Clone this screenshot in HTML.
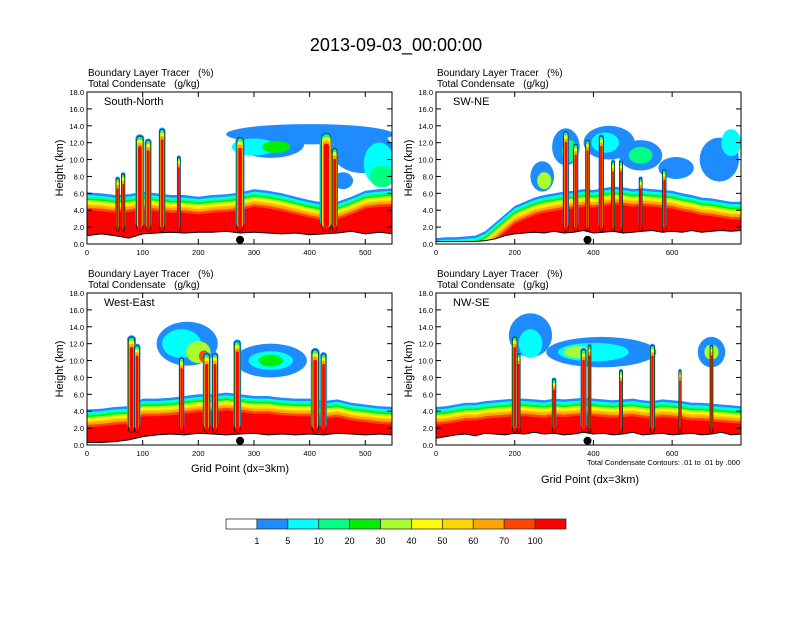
<!DOCTYPE html>
<html><head><meta charset="utf-8"><style>
body{margin:0;background:#fff}
svg text{font-family:"Liberation Sans",sans-serif}
</style></head><body>
<svg id="s" width="792" height="612" xmlns="http://www.w3.org/2000/svg">
<rect width="792" height="612" fill="#fff"/>
<text x="396" y="51" font-size="18" text-anchor="middle">2013-09-03_00:00:00</text>
</svg>
<script>
// ---- data ----
const levelColors=["#ffffff","#1e8cff","#00ffff","#00ff82","#00f000","#a8ff30","#ffff00","#ffd700","#ffa500","#ff4500","#ff0000"];
const colorbarLabels=["1","5","10","20","30","40","50","60","70","100"];
const panelNames=["South-North","SW-NE","West-East","NW-SE"];
const panelGridMax=[548,775,548,775];
const p1Terrain=[1.0,1.2,1.0,0.7,1.2,1.3,1.4,1.3,1.4,1.4,1.5,1.3,1.4,1.3,1.2,1.3,1.1,1.2,1.3,1.5,1.2,1.4,1.2];
const p1BlueTop=[6.1,6.0,5.8,5.9,6.2,6.0,5.8,5.8,5.6,5.8,5.9,6.1,6.5,6.3,6.0,5.6,5.2,4.9,5.0,5.6,6.3,6.5,6.6];
const p1Towers=[[55,8,8],[65,8.5,8],[95,13,16],[110,12.5,12],[135,13.8,12],[165,10.5,7],[275,12.8,16],[430,13.3,24],[445,11.5,12]];
const p1Clouds=[[400,13,150,1.2,1],[330,11.8,60,1.6,1],[300,11.5,40,1.0,2],[340,11.5,25,0.7,4],[495,11,55,2.6,1],[525,9.5,28,2.5,2],[530,8,22,1.3,3],[460,7.5,18,1.0,1]];
const p2Terrain=[0.3,0.3,0.3,0.3,0.3,0.4,0.6,1.0,1.2,1.3,1.4,1.3,1.5,1.3,1.4,1.6,1.3,1.4,1.5,1.3,1.4,1.5,1.6,1.4,1.5,1.4,1.6,1.4,1.5,1.6,1.5,1.6];
const p2BlueTop=[0.7,0.8,0.8,0.9,1.0,1.5,2.5,3.5,4.5,5.0,5.5,5.8,6.0,6.2,6.3,6.5,6.4,6.6,6.8,6.7,6.5,6.6,6.5,6.4,6.3,6.0,5.8,5.5,5.4,5.2,5.0,5.0];
const p2Towers=[[330,13.5,16],[355,12,14],[385,12.5,12],[420,13,14],[450,10,10],[470,10,10],[520,8,10],[580,9,12]];
const p2Clouds=[[270,8,30,1.8,1],[275,7.5,18,1.0,5],[330,11.5,35,2.2,1],[340,11,20,1.3,3],[440,12,65,2.0,1],[430,12,35,1.2,2],[520,10.5,55,1.8,1],[520,10.5,30,1.0,3],[610,9,45,1.3,1],[720,10,50,2.6,1],[750,12,25,1.6,2]];
const p3Terrain=[0.3,0.3,0.4,0.6,1.0,1.2,1.3,1.2,1.4,1.3,1.2,1.3,1.4,1.2,1.3,1.2,1.3,1.2,1.4,1.3,1.2,1.3,1.2];
const p3BlueTop=[4.2,4.3,4.5,4.6,5.5,5.5,5.6,5.8,6.0,6.0,6.2,6.0,5.8,5.8,5.6,5.5,5.5,5.2,5.4,5.0,4.8,4.6,4.5];
const p3Towers=[[80,13,16],[90,12,12],[170,10.5,10],[215,11,14],[230,11,12],[270,12.5,14],[410,11.5,16],[425,11,12]];
const p3Clouds=[[180,12,55,2.6,1],[170,12,35,1.7,2],[200,11,22,1.3,5],[210,10.5,9,0.7,9],[330,10,65,2.0,1],[330,10,40,1.1,2],[330,10,22,0.7,4]];
const p4Terrain=[0.8,1.0,1.2,1.3,1.1,1.4,1.3,1.2,1.4,1.3,1.5,1.3,1.4,1.2,1.3,1.5,1.3,1.4,1.2,1.3,1.5,1.2,1.3,1.4,1.2,1.3,1.4,1.2,1.3,1.5,1.2,1.3];
const p4BlueTop=[4.5,4.6,4.8,5.0,5.0,5.2,5.3,5.4,5.5,5.5,5.4,5.3,5.5,5.4,5.5,5.6,5.5,5.4,5.3,5.4,5.5,5.3,5.2,5.4,5.3,5.2,5.0,5.0,4.9,4.8,4.7,4.6];
const p4Towers=[[200,13,16],[210,11,10],[300,8,12],[375,11.5,16],[390,12,10],[470,9,10],[550,12,14],[620,9,8],[700,12,10]];
const p4Clouds=[[240,13,55,2.6,1],[240,12,30,1.7,2],[420,11,140,1.8,1],[400,11,90,1.1,2],[360,11,35,0.7,5],[700,11,35,1.8,1],[700,11,18,0.9,5]];
const dotGrid=[275,385,275,385];
const yTicks=[0,2,4,6,8,10,12,14,16,18];
const xTicksSmall=[0,100,200,300,400,500];
const xTicksLarge=[0,200,400,600];
const bandOffsets=[0,0.3,0.5,0.7,0.9,1.1,1.3,1.5,1.8,2.1];

// ---- drawing ----
const svg=document.getElementById('s');
const NS="http://www.w3.org/2000/svg";
function mk(tag,attrs,parent){const e=document.createElementNS(NS,tag);for(const k in attrs)e.setAttribute(k,attrs[k]);(parent||svg).appendChild(e);return e;}
const boxes=[[87,92],[436,92],[87,293],[436,293]];
const PW=305,PH=152;
const terrains=[p1Terrain,p2Terrain,p3Terrain,p4Terrain];
const blues=[p1BlueTop,p2BlueTop,p3BlueTop,p4BlueTop];
const towers=[p1Towers,p2Towers,p3Towers,p4Towers];
const clouds=[p1Clouds,p2Clouds,p3Clouds,p4Clouds];
const xTicksAll=[xTicksSmall,xTicksLarge,xTicksSmall,xTicksLarge];
const towerLayers=[[1,1.0,0],[3,0.85,0.3],[6,0.7,0.6],[8,0.55,1.0],[10,0.4,1.4]];

for(let p=0;p<4;p++){
  const [x0,y0]=boxes[p];const gmax=panelGridMax[p];
  const X=g=>x0+g/gmax*PW, Y=h=>y0+PH-h/18*PH;
  const g=mk('g',{},svg);
  
  
  const cid='clip'+p;
  const cp=mk('clipPath',{id:cid},g);mk('rect',{x:x0,y:y0,width:PW,height:PH},cp);
  const pg=mk('g',{'clip-path':'url(#'+cid+')'},g);
  const tr=terrains[p],bt=blues[p],step=25;
  for(let k=0;k<10;k++){
    let pts=[];
    for(let i=0;i<bt.length;i++)pts.push(X(i*step).toFixed(1)+','+Y(bt[i]-bandOffsets[k]).toFixed(1));
    pts.push(X(gmax+25)+','+Y(0));pts.push(X(0)+','+Y(0));
    const b=mk('polygon',{points:pts.join(' '),fill:levelColors[k+1]},pg);
    
    
  }
  for(const c of clouds[p]){
    const e=mk('ellipse',{cx:X(c[0]),cy:Y(c[1]),rx:c[2]/gmax*PW,ry:c[3]/18*PH,fill:levelColors[c[4]]},pg);
    
    
  }
  for(const t of towers[p]){
    const w=t[2]/gmax*PW;
    for(const L of towerLayers){
      const ww=w*L[1];const top=t[1]-L[2];
      const r=mk('rect',{x:X(t[0])-ww/2,y:Y(top),width:ww,height:Y(2)-Y(top),rx:ww/2,fill:levelColors[L[0]]},pg);
      
      
    }
    const o=mk('rect',{x:X(t[0])-w*0.35,y:Y(t[1]-0.2),width:w*0.7,height:Y(1.5)-Y(t[1]-0.2),rx:w*0.35,fill:'none',stroke:'#000','stroke-width':0.6},pg);
    
    
  }
  let tp=[];
  for(let i=0;i<tr.length;i++)tp.push(X(i*step).toFixed(1)+','+Y(tr[i]).toFixed(1));
  const tf=mk('polygon',{points:tp.join(' ')+' '+X(gmax+25)+','+Y(-1)+' '+X(0)+','+Y(-1),fill:'#fff'},pg);
  
  
  mk('polyline',{points:tp.join(' '),fill:'none',stroke:'#000','stroke-width':1},pg);
  const d=mk('circle',{cx:X(dotGrid[p]),cy:Y(0.5),r:4,fill:'#000'},g);
  
  
  const fr=mk('rect',{x:x0,y:y0,width:PW,height:PH,fill:'none',stroke:'#000','stroke-width':1},g);
  
  
  for(const v of yTicks){
    mk('line',{x1:x0,x2:x0+5,y1:Y(v),y2:Y(v),stroke:'#000'},g);
    mk('line',{x1:x0+PW,x2:x0+PW-5,y1:Y(v),y2:Y(v),stroke:'#000'},g);
    const t=mk('text',{x:x0-3,y:Y(v)+3,'font-size':7.5,'text-anchor':'end'},g);t.textContent=v.toFixed(1);
    
    
  }
  for(const v of xTicksAll[p]){
    mk('line',{x1:X(v),x2:X(v),y1:y0+PH,y2:y0+PH-5,stroke:'#000'},g);
    mk('line',{x1:X(v),x2:X(v),y1:y0,y2:y0+5,stroke:'#000'},g);
    const t=mk('text',{x:X(v),y:y0+PH+11,'font-size':7.5,'text-anchor':'middle'},g);t.textContent=v;
    
    
  }
  const l1=mk('text',{x:x0+1,y:y0-16,'font-size':10},g);l1.textContent='Boundary Layer Tracer   (%)';
  
  
  l1.style.whiteSpace='pre';
  const l2=mk('text',{x:x0+1,y:y0-5,'font-size':10},g);l2.textContent='Total Condensate   (g/kg)';
  
  
  l2.style.whiteSpace='pre';
  const pn=mk('text',{x:x0+17,y:y0+13,'font-size':11},g);pn.textContent=panelNames[p];
  
  
  const yl=mk('text',{x:0,y:0,'font-size':11,'text-anchor':'middle',transform:`translate(${x0-24},${y0+PH/2}) rotate(-90)`},g);
  yl.textContent='Height (km)';
  
  
}
const xt1=mk('text',{x:240,y:472,'font-size':11,'text-anchor':'middle'});xt1.textContent='Grid Point (dx=3km)';


const xt2=mk('text',{x:590,y:483,'font-size':11,'text-anchor':'middle'});xt2.textContent='Grid Point (dx=3km)';


const cn=mk('text',{x:740,y:465,'font-size':7.5,'text-anchor':'end'});cn.textContent='Total Condensate Contours: .01 to .01 by .000';


const cbw=340/levelColors.length;
for(let i=0;i<levelColors.length;i++){
  const r=mk('rect',{x:226+i*cbw,y:519,width:cbw,height:10,fill:levelColors[i],stroke:'#333','stroke-width':0.8});
  
  
}
for(let i=0;i<colorbarLabels.length;i++){
  const t=mk('text',{x:226+(i+1)*cbw,y:544,'font-size':9,'text-anchor':'middle'});t.textContent=colorbarLabels[i];
  
  
}
</script>
</body></html>
